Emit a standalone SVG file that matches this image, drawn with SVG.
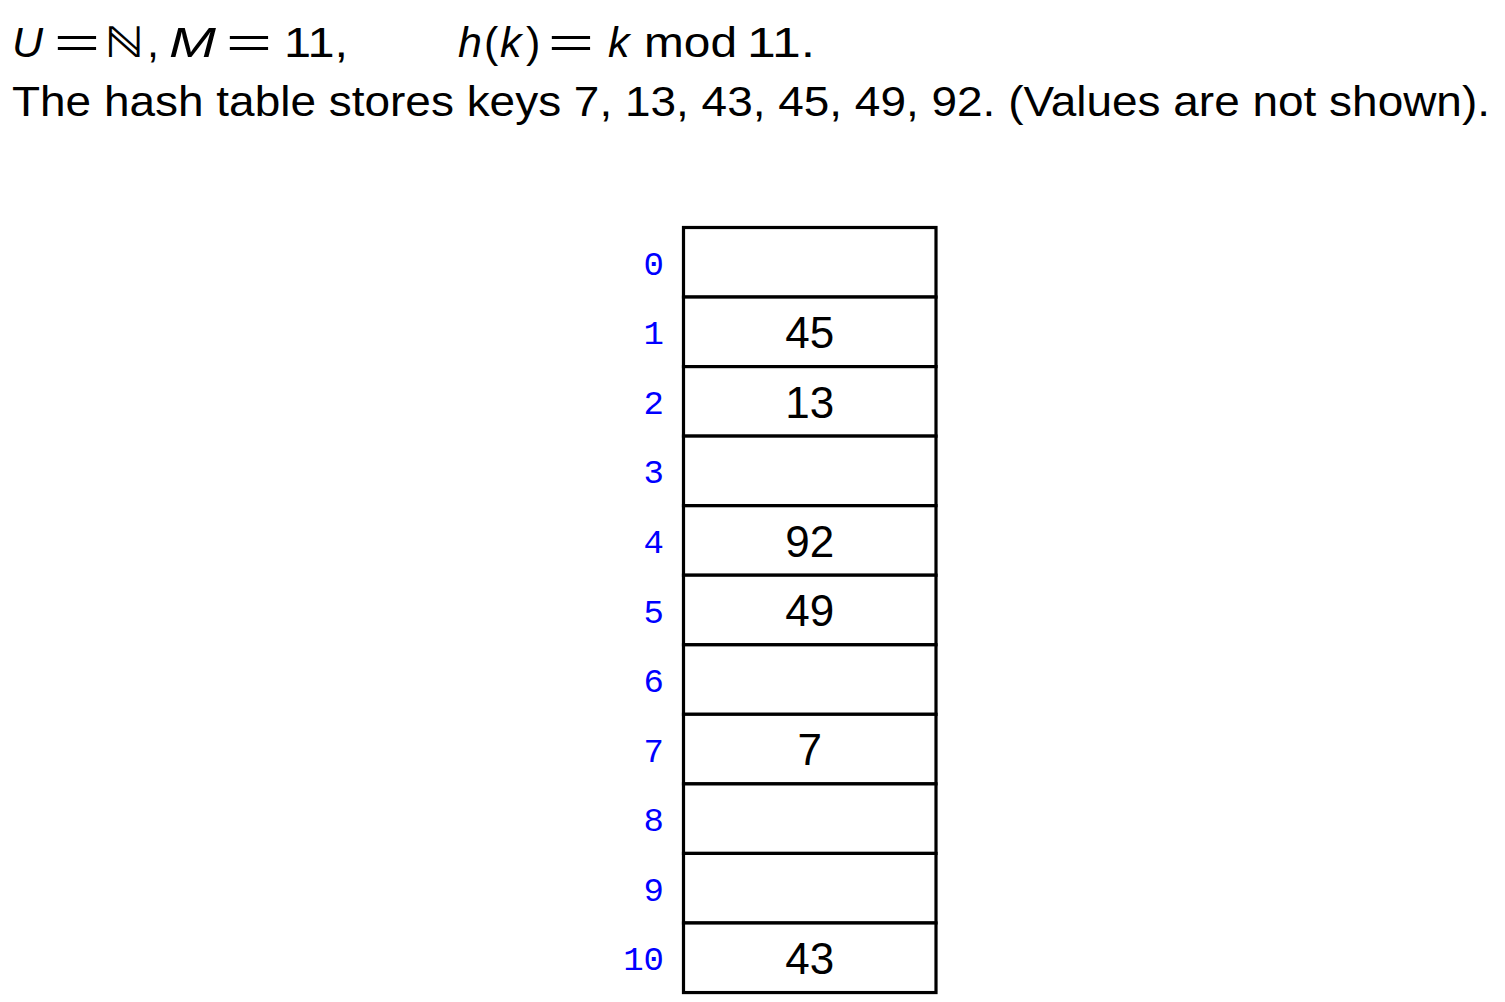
<svg xmlns="http://www.w3.org/2000/svg" width="1505" height="1002" viewBox="0 0 1505 1002">
<style>
.hdr{font-family:"Liberation Sans",Arial,sans-serif;font-size:43px;fill:#000}
.it{font-style:italic}
.cell{fill:#fff;stroke:#000;stroke-width:3.2}
.val{font-family:"Liberation Sans",Arial,sans-serif;font-size:44px;fill:#000;text-anchor:middle}
.idx{font-family:"Liberation Mono","Courier New",monospace;font-size:34px;fill:#0000ff;text-anchor:end}
</style>
<rect width="1505" height="1002" fill="#fff"/>
<g id="header">
<text class="hdr it" x="12" y="56.5">U</text>
<text class="hdr" x="54" y="56.5" textLength="46" lengthAdjust="spacingAndGlyphs">=</text>
<text class="hdr" x="104" y="56.5" font-family="DejaVu Sans, sans-serif" textLength="40" lengthAdjust="spacingAndGlyphs">ℕ</text>
<text class="hdr" x="147" y="56.5">,</text>
<text class="hdr it" x="169" y="56.5" textLength="47" lengthAdjust="spacingAndGlyphs">M</text>
<text class="hdr" x="226" y="56.5" textLength="46" lengthAdjust="spacingAndGlyphs">=</text>
<text class="hdr" x="284" y="56.5" textLength="64" lengthAdjust="spacingAndGlyphs">11,</text>
<text class="hdr it" x="458" y="56.5">h</text>
<text class="hdr" x="484" y="56.5">(</text>
<text class="hdr it" x="500" y="56.5">k</text>
<text class="hdr" x="526" y="56.5">)</text>
<text class="hdr" x="548" y="56.5" textLength="46" lengthAdjust="spacingAndGlyphs">=</text>
<text class="hdr it" x="608" y="56.5">k</text>
<text class="hdr" x="644" y="56.5" textLength="93" lengthAdjust="spacingAndGlyphs">mod</text>
<text class="hdr" x="747" y="56.5" textLength="68" lengthAdjust="spacingAndGlyphs">11.</text>
<text class="hdr" x="12" y="116" textLength="1478" lengthAdjust="spacingAndGlyphs">The hash table stores keys 7, 13, 43, 45, 49, 92. (Values are not shown).</text>
</g>
<g id="table">
<g id="slot0"><rect class="cell" x="683.5" y="227.5" width="252.5" height="69.55"/><text class="idx" x="664" y="274.8">0</text></g>
<g id="slot1"><rect class="cell" x="683.5" y="297.05" width="252.5" height="69.55"/><text class="idx" x="664" y="344.3">1</text><text class="val" x="809.7" y="348.1">45</text></g>
<g id="slot2"><rect class="cell" x="683.5" y="366.6" width="252.5" height="69.55"/><text class="idx" x="664" y="413.9">2</text><text class="val" x="809.7" y="417.7">13</text></g>
<g id="slot3"><rect class="cell" x="683.5" y="436.1" width="252.5" height="69.55"/><text class="idx" x="664" y="483.4">3</text></g>
<g id="slot4"><rect class="cell" x="683.5" y="505.7" width="252.5" height="69.55"/><text class="idx" x="664" y="553.0">4</text><text class="val" x="809.7" y="556.8">92</text></g>
<g id="slot5"><rect class="cell" x="683.5" y="575.2" width="252.5" height="69.55"/><text class="idx" x="664" y="622.5">5</text><text class="val" x="809.7" y="626.3">49</text></g>
<g id="slot6"><rect class="cell" x="683.5" y="644.8" width="252.5" height="69.55"/><text class="idx" x="664" y="692.0">6</text></g>
<g id="slot7"><rect class="cell" x="683.5" y="714.3" width="252.5" height="69.55"/><text class="idx" x="664" y="761.6">7</text><text class="val" x="809.7" y="765.4">7</text></g>
<g id="slot8"><rect class="cell" x="683.5" y="783.9" width="252.5" height="69.55"/><text class="idx" x="664" y="831.1">8</text></g>
<g id="slot9"><rect class="cell" x="683.5" y="853.4" width="252.5" height="69.55"/><text class="idx" x="664" y="900.7">9</text></g>
<g id="slot10"><rect class="cell" x="683.5" y="923.0" width="252.5" height="69.55"/><text class="idx" x="664" y="970.2">10</text><text class="val" x="809.7" y="974.0">43</text></g>
</g>
<g id="connectors"/>
</svg>
